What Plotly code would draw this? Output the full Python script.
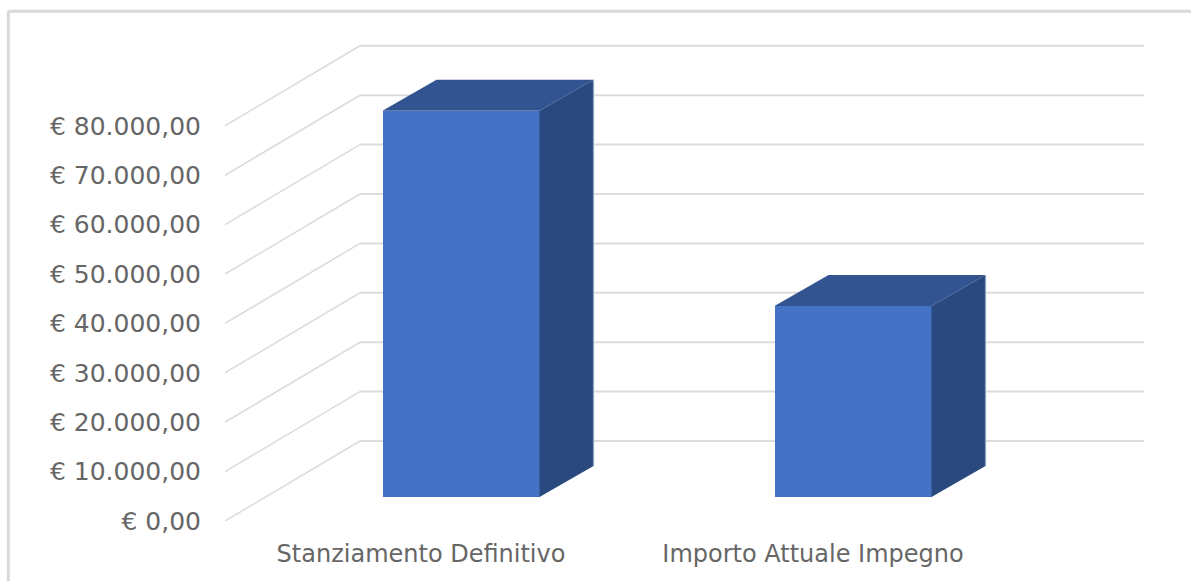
import plotly.graph_objects as go

categories = ["Stanziamento Definitivo", "Importo Attuale Impegno"]
values = [78200, 38650]
tick_values = [0, 10000, 20000, 30000, 40000, 50000, 60000, 70000, 80000]
tick_labels = ["€ 0,00", "€ 10.000,00", "€ 20.000,00", "€ 30.000,00", "€ 40.000,00",
               "€ 50.000,00", "€ 60.000,00", "€ 70.000,00", "€ 80.000,00"]

W, H = 1191, 581
ML, MR, MT, MB = 225, 47, 20, 60
PX_PER_CAT = 392.0
PX_PER_EUR = 49.4 / 10000

def dx(px):
    return px / PX_PER_CAT

def dy(px):
    return px / PX_PER_EUR

x_range = [0, (W - ML - MR) / PX_PER_CAT]
y_range = [0, (H - MT - MB) / PX_PER_EUR]
cat_pos = [i + 0.5 for i in range(len(categories))]

GRID = "#dcdcdc"
FRONT = "#4472c4"
TOP = "#325591"
SIDE = "#2a4a7f"
EDGE = "#8fa3c8"
TEXT = "#666666"
FONT = "DejaVu Sans"

# depth of the wall, of the bar's front plane, and of the bar itself (pixels)
WALL = (135, 80)
GAP = (40, 24)
DEPTH = (54, 31)
BAR_W = 157 / PX_PER_CAT

fig = go.Figure()

bar_x = [c + dx(GAP[0]) for c in cat_pos]
base = dy(GAP[1])

fig.add_trace(go.Bar(x=bar_x, y=values, base=[base] * len(values), width=BAR_W,
                     marker=dict(color=FRONT, line=dict(width=0)),
                     showlegend=False, hoverinfo="skip"))

for cx, v in zip(bar_x, values):
    xl, xr = cx - BAR_W / 2, cx + BAR_W / 2
    top = base + v
    ddx, ddy = dx(DEPTH[0]), dy(DEPTH[1])
    # side face
    fig.add_trace(go.Scatter(x=[xr, xr + ddx, xr + ddx, xr, xr],
                             y=[base, base + ddy, top + ddy, top, base],
                             mode="lines", fill="toself", fillcolor=SIDE,
                             line=dict(width=0), showlegend=False, hoverinfo="skip"))
    # lighter outer edge of the side face
    fig.add_trace(go.Scatter(x=[xr + ddx, xr + ddx], y=[base + ddy, top + ddy],
                             mode="lines", line=dict(color=EDGE, width=1.2),
                             showlegend=False, hoverinfo="skip"))
    # top face
    fig.add_trace(go.Scatter(x=[xl, xl + ddx, xr + ddx, xr, xl],
                             y=[top, top + ddy, top + ddy, top, top],
                             mode="lines", fill="toself", fillcolor=TOP,
                             line=dict(width=0), showlegend=False, hoverinfo="skip"))

# gridlines: floor-to-wall diagonal, then along the back wall
shapes = []
for t in tick_values:
    wx, wy = dx(WALL[0]), t + dy(WALL[1])
    shapes.append(dict(type="line", xref="x", yref="y", x0=0, y0=t, x1=wx, y1=wy,
                       line=dict(color=GRID, width=1.6), layer="below"))
    shapes.append(dict(type="line", xref="x", yref="y", x0=wx, y0=wy,
                       x1=wx + len(categories), y1=wy,
                       line=dict(color=GRID, width=2), layer="below"))

# outer chart frame, running off the right and bottom of the picture
FRAME_X, FRAME_Y = 8.3, 11.3
fx = (FRAME_X - ML) / (W - ML - MR)
fy = (H - MB - FRAME_Y) / (H - MT - MB)
shapes.append(dict(type="line", xref="paper", yref="paper",
                   x0=fx, x1=(W - ML) / (W - ML - MR), y0=fy, y1=fy,
                   line=dict(color="#d9d9d9", width=3), layer="below"))
shapes.append(dict(type="line", xref="paper", yref="paper",
                   x0=fx, x1=fx, y0=-MB / (H - MT - MB), y1=fy,
                   line=dict(color="#d9d9d9", width=3), layer="below"))

fig.update_layout(
    width=W, height=H,
    margin=dict(l=ML, r=MR, t=MT, b=MB, autoexpand=False),
    paper_bgcolor="white", plot_bgcolor="white",
    shapes=shapes, showlegend=False, bargap=0,
    xaxis=dict(range=x_range, tickmode="array", tickvals=cat_pos, ticktext=categories,
               showgrid=False, zeroline=False, showline=False, ticks="outside",
               ticklen=11, tickcolor="rgba(0,0,0,0)",
               tickfont=dict(family=FONT, size=24, color=TEXT)),
    yaxis=dict(range=y_range, tickmode="array", tickvals=tick_values, ticktext=tick_labels,
               showgrid=False, zeroline=False, showline=False, ticks="outside",
               ticklen=18, tickcolor="rgba(0,0,0,0)",
               tickfont=dict(family=FONT, size=25, color=TEXT)),
)

fig.write_html("out.html", config={"displayModeBar": False},
               post_script="document.body.style.margin='0';")
